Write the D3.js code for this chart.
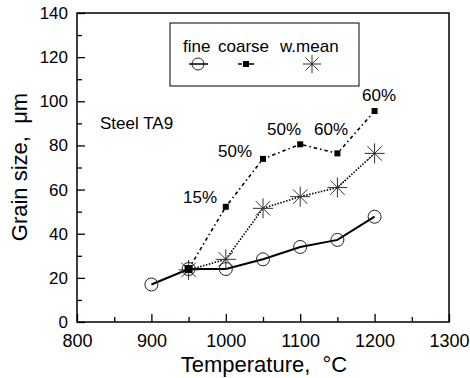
<!DOCTYPE html>
<html>
<head>
<meta charset="utf-8">
<script src="https://cdn.jsdelivr.net/npm/d3@7"></script>
<style>
  body { margin: 0; background: #fff; }
  svg { font-family: "Liberation Sans", Arial, sans-serif; }
  .title { white-space: pre; }
</style>
</head>
<body>
<div id="chart"></div>
<script>
// data
var temps = [900, 950, 1000, 1050, 1100, 1150, 1200];
var fine = [17, 24, 24, 28.4, 34, 37.2, 47.7];
var coarseT = [950, 1000, 1050, 1100, 1150, 1200];
var coarse = [24, 52.2, 73.9, 80.5, 76.4, 95.6];
var meanT = [950, 1000, 1050, 1100, 1150, 1200];
var wmean = [23.6, 28.4, 51.5, 56.8, 60.9, 76.4];
var pctLabels = ["15%", "50%", "50%", "60%", "60%"];
var xTicks = [800, 900, 1000, 1100, 1200, 1300];
var yTicks = [0, 20, 40, 60, 80, 100, 120, 140];

var W = 470, H = 378;
var m = { l: 77, t: 13, r: 21, b: 56 };

var svg = d3.select('#chart').append('svg')
	.attr('width', W).attr('height', H);

var x = d3.scaleLinear().domain([800, 1300]).range([m.l, W - m.r]);
var y = d3.scaleLinear().domain([0, 140]).range([H - m.b, m.t]);

// frame
svg.append('rect')
	.attr('x', x(800)).attr('y', y(140))
	.attr('width', x(1300) - x(800)).attr('height', y(0) - y(140))
	.attr('fill', 'none').attr('stroke', '#000').attr('stroke-width', 1.5);

// axes, ticks pointing inward
var xMinor = d3.range(850, 1300, 100);
var yMinor = d3.range(10, 140, 20);

var gx = svg.append('g').attr('transform', 'translate(0,' + y(0) + ')');
gx.call(d3.axisBottom(x).tickValues(xTicks).tickSize(-8).tickPadding(12).tickFormat(d3.format('d')));
gx.append('g').call(d3.axisBottom(x).tickValues(xMinor).tickSize(-5).tickFormat(''));
gx.selectAll('.domain').remove();
gx.selectAll('line').attr('stroke', '#000').attr('stroke-width', 1.3);
gx.selectAll('text').attr('font-size', 18).attr('fill', '#000').attr('font-family', '"Liberation Sans", Arial, sans-serif');

var gy = svg.append('g').attr('transform', 'translate(' + x(800) + ',0)');
gy.call(d3.axisLeft(y).tickValues(yTicks).tickSize(-8).tickPadding(9));
gy.append('g').call(d3.axisLeft(y).tickValues(yMinor).tickSize(-5).tickFormat(''));
gy.selectAll('.domain').remove();
gy.selectAll('line').attr('stroke', '#000').attr('stroke-width', 1.3);
gy.selectAll('text').attr('font-size', 17).attr('fill', '#000').attr('font-family', '"Liberation Sans", Arial, sans-serif');

// axis titles
svg.append('text').attr('class', 'title')
	.attr('x', (x(800) + x(1300)) / 2 + 1).attr('y', 372)
	.attr('text-anchor', 'middle').attr('font-size', 22)
	.text('Temperature,  \u00b0C');
svg.append('text').attr('class', 'title')
	.attr('transform', 'translate(27,' + 167 + ') rotate(-90)')
	.attr('text-anchor', 'middle').attr('font-size', 22)
	.text('Grain size,  \u03bcm');

var line = d3.line().x(function (d) { return x(d[0]); }).y(function (d) { return y(d[1]); });

var fineP = temps.map(function (t, i) { return [t, fine[i]]; });
var coarseP = coarseT.map(function (t, i) { return [t, coarse[i]]; });
var meanP = meanT.map(function (t, i) { return [t, wmean[i]]; });

// lines
svg.append('path').datum(coarseP).attr('d', line)
	.attr('fill', 'none').attr('stroke', '#000').attr('stroke-width', 1.6)
	.attr('stroke-dasharray', '3.5,3,1.5,3');
svg.append('path').datum(meanP).attr('d', line)
	.attr('fill', 'none').attr('stroke', '#000').attr('stroke-width', 1.6)
	.attr('stroke-dasharray', '1.5,1.5');
svg.append('path').datum(fineP).attr('d', line)
	.attr('fill', 'none').attr('stroke', '#000').attr('stroke-width', 2);

function star(g, cx, cy, r) {
	var a = r * 0.72;
	var segs = [[-r, 0, r, 0], [0, -r, 0, r], [-a, -a, a, a], [-a, a, a, -a]];
	segs.forEach(function (s) {
		g.append('line')
			.attr('x1', cx + s[0]).attr('y1', cy + s[1])
			.attr('x2', cx + s[2]).attr('y2', cy + s[3])
			.attr('stroke', '#333').attr('stroke-width', 1);
	});
}

// markers
var mk = svg.append('g');
fineP.forEach(function (p) {
	mk.append('circle').attr('cx', x(p[0])).attr('cy', y(p[1])).attr('r', 6.5)
		.attr('fill', 'none').attr('stroke', '#222').attr('stroke-width', 1);
});
meanP.forEach(function (p) { star(mk, x(p[0]), y(p[1]), 10); });
coarseP.forEach(function (p, i) {
	var s = i == 0 ? 8 : 6;
	mk.append('rect').attr('x', x(p[0]) - s / 2).attr('y', y(p[1]) - s / 2)
		.attr('width', s).attr('height', s).attr('fill', '#000');
});

// percent labels next to coarse points
var lblPos = [[183, 203], [218, 157], [267, 135], [314, 135], [362, 101]];
pctLabels.forEach(function (t, i) {
	svg.append('text').attr('x', lblPos[i][0]).attr('y', lblPos[i][1])
		.attr('font-size', 17).text(t);
});

svg.append('text').attr('x', 100).attr('y', 129).attr('font-size', 17).text('Steel TA9');

// legend
var lg = svg.append('g');
lg.append('rect').attr('x', 170).attr('y', 23).attr('width', 189).attr('height', 63)
	.attr('fill', '#fff').attr('stroke', '#000').attr('stroke-width', 1);
lg.append('text').attr('x', 183).attr('y', 52).attr('font-size', 17).text('fine');
lg.append('text').attr('x', 218).attr('y', 52).attr('font-size', 17).text('coarse');
lg.append('text').attr('x', 280).attr('y', 52).attr('font-size', 17).text('w.mean');
lg.append('line').attr('x1', 189).attr('x2', 208).attr('y1', 64).attr('y2', 64)
	.attr('stroke', '#000').attr('stroke-width', 1.5);
lg.append('circle').attr('cx', 198).attr('cy', 64).attr('r', 6)
	.attr('fill', 'none').attr('stroke', '#222').attr('stroke-width', 1);
lg.append('line').attr('x1', 238).attr('x2', 242).attr('y1', 64).attr('y2', 64)
	.attr('stroke', '#000').attr('stroke-width', 1.5);
lg.append('line').attr('x1', 249).attr('x2', 254).attr('y1', 64).attr('y2', 64)
	.attr('stroke', '#000').attr('stroke-width', 1.5);
lg.append('rect').attr('x', 243).attr('y', 61).attr('width', 6).attr('height', 6).attr('fill', '#000');
star(lg, 312, 64, 9);
</script>
</body>
</html>
